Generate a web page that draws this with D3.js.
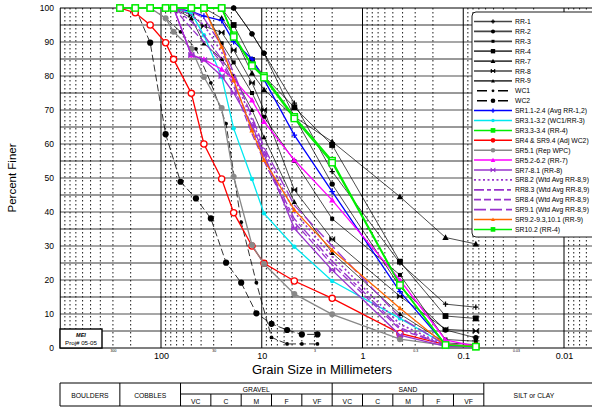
<!DOCTYPE html>
<html><head><meta charset="utf-8">
<script src="https://cdn.jsdelivr.net/npm/d3@7"></script>
<style>
body{margin:0;background:#fff}
svg{display:block}
text{font-family:"Liberation Sans",Arial,sans-serif}
</style>
</head><body>
<svg id="c" width="592" height="407"></svg>
<script>
// ---------- DATA ----------
const sieveSizes  = [256, 180, 128, 90, 75, 50, 37.5, 25, 19, 12.5, 9.5, 4.75, 2, 0.425, 0.15, 0.075];
const pebbleSizes = [256, 180, 128, 90, 64, 45, 32, 22.6, 16, 11.3, 8, 5.6, 4, 2.8];
const n = null;
const rr1  = [n,n,n,n,n,n,n,n,100,92.4,86.7,72,51.9,25,12.9,12];
const rr2  = [n,n,n,n,n,n,n,n,100,92.4,86.7,68,48.2,18,5.3,3];
const rr3  = [n,n,n,n,n,n,100,89.6,84,75,68,55,38,21.5,2.5,2];
const rr4  = [n,n,n,n,n,n,n,100,95,84.7,80,70.8,59.7,25.4,9.4,8.7];
const rr7  = [n,n,n,n,n,n,100,97,92,80.8,76,68,60.7,44.5,32.5,30.6];
const rr8  = [n,n,n,n,100,98,94.7,92.8,87.6,78,70,46.5,32,15.2,5.5,5];
const rr9  = [n,n,n,n,100,97,89.6,85,80,70,62,43,28,10,1.5,1];
const wc1  = [n,n,100,97,93,88,78,66,37,19.2,3.1,1.2,1.2,1.2];
const wc2  = [n,100,89.8,62.9,48.9,44,38.1,25.1,19.2,10.2,7.1,5.3,4,4];
const sr11 = [n,n,n,n,100,99,97.6,96.3,90.1,85,79,62.6,46,16.6,1,0.5];
const sr31 = [n,n,n,n,100,98.5,92,79.8,64.6,49.7,39.6,29.8,19.7,8.7,1,0.5];
const sr33 = [100,100,100,100,100,100,100,100,92,83.2,80,68,55.1,18.7,0.9,0.4];
const sr4  = [100,98.6,95,89.8,84.9,74.9,60,49.7,39.8,30,24.9,19.7,14.6,4.3,1,0.5];
const sr51 = [100,100,100,97,93,88,79.7,70.6,50.4,30.3,24.7,15.9,9.9,2.6,0.8,0.5];
const sr52 = [n,n,n,n,100,86.2,84.9,82,79,72.9,66.6,55.3,43.5,20,2.4,0.5];
const sr7  = [n,n,n,n,100,86.2,84.7,80,75,65.6,57,35.2,22.9,3.8,0.5,0.3];
const sr82 = [n,n,n,n,100,98,95,87,80,67,58,40,27,7,0.8,0.5];
const rr83 = [n,n,n,n,100,96,92,85,78,65,56,38,25.5,6,0.7,0.5];
const sr84 = [n,n,n,n,100,94,90,84,77,63,55,37,24.5,5.5,0.7,0.5];
const sr91 = [n,n,n,n,100,99,97,89,81,68,59,42,30,9,0.9,0.5];
const sr92 = [n,n,n,n,n,n,100,88.6,78.8,64,55.3,40.6,28.8,11.7,0.9,0.5];
const sr102= [100,100,100,100,100,100,100,100,91.5,83,79.5,67.5,54.5,18.5,0.9,0.4];

const seriesNames = ["RR-1","RR-2","RR-3","RR-4","RR-7","RR-8","RR-9","WC1","WC2",
  "SR1.1-2.4 (Avg RR-1,2)","SR3.1-3.2 (WC1/RR-3)","SR3.3-3.4 (RR-4)","SR4 & SR9.4 (Adj WC2)",
  "SR5.1 (Rep WPC)","SR5.2-6.2 (RR-7)","SR7-8.1 (RR-8)","SR8.2 (Wtd Avg RR-8,9)",
  "RR8.3 (Wtd Avg RR-8,9)","SR8.4 (Wtd Avg RR-8,9)","SR9.1 (Wtd Avg RR-8,9)",
  "SR9.2-9.3,10.1 (RR-9)","SR10.2 (RR-4)"];
const seriesValues = [rr1,rr2,rr3,rr4,rr7,rr8,rr9,wc1,wc2,sr11,sr31,sr33,sr4,sr51,sr52,sr7,sr82,rr83,sr84,sr91,sr92,sr102];
const seriesSizes = seriesNames.map(s => (s==="WC1"||s==="WC2") ? pebbleSizes : sieveSizes);

const yTicks = [0,10,20,30,40,50,60,70,80,90,100];
const xMajorTicks = [100,10,1,0.1,0.01];
const xMinorLabels = [300,30,3,0.3,0.03];
const classNames = ["BOULDERS","COBBLES","GRAVEL","SAND","SILT or CLAY"];
const subNames = ["VC","C","M","F","VF"];
const gravelBounds = [64,32,16,8,4,2];
const sandBounds = [2,1,0.5,0.25,0.125,0.0625];

// ---------- STYLES ----------
const PURPLE = "#9933cc";
const styles = [
 {c:"#000",w:0.7,d:null,m:"plus",s:2.6},
 {c:"#000",w:0.7,d:null,m:"circle",s:2.7},
 {c:"#000",w:0.7,d:null,m:"square",s:2},
 {c:"#000",w:0.7,d:null,m:"square",s:2.9},
 {c:"#000",w:0.7,d:null,m:"triangle",s:3.2},
 {c:"#000",w:0.7,d:null,m:"bowtie",s:2.6},
 {c:"#000",w:0.7,d:null,m:"triangle",s:2.6},
 {c:"#000",w:0.8,d:"7,3",m:"circle",s:1.9},
 {c:"#000",w:0.8,d:"7,3",m:"circle",s:3.1},
 {c:"#0000ff",w:1.3,d:null,m:"plus",s:2.8},
 {c:"#00e8f0",w:1.3,d:null,m:"circle",s:2.2},
 {c:"#00ee00",w:1.5,d:null,m:"osquare",s:3.1},
 {c:"#ff0000",w:1.3,d:null,m:"ocircle",s:3.1},
 {c:"#888888",w:1.3,d:null,m:"circle",s:3},
 {c:"#ff00ff",w:1.3,d:null,m:"triangle",s:3.1},
 {c:PURPLE,w:1.3,d:null,m:"bowtie",s:2.8},
 {c:PURPLE,w:1.6,d:"2,2.5",m:null},
 {c:PURPLE,w:1.3,d:"10,3,4,3",m:null},
 {c:PURPLE,w:1.3,d:"7,3",m:null},
 {c:PURPLE,w:1.3,d:"12,4",m:null},
 {c:"#ff6600",w:1.3,d:null,m:"triangle",s:2.6},
 {c:"#00ee00",w:1.5,d:null,m:"osquare",s:3.1}
];

// ---------- CHART ----------
const svg = d3.select("#c");
const x = d3.scaleLog().domain([1000, 0.001]).range([60.25, 664.75]);
const y = d3.scaleLinear().domain([0, 100]).range([348, 8]);
const X0 = 60, X1 = 592, Y0 = 348, Y1 = 8;

const grid = svg.append("g");
d3.range(5, 100, 5).forEach(p => {
  const ten = p % 10 === 0;
  grid.append("line").attr("x1",X0).attr("x2",X1).attr("y1",y(p)).attr("y2",y(p))
    .attr("stroke", ten ? "#8a8a8a" : "#000").attr("stroke-width", ten ? 1.7 : 0.8);
});
[100,10,1,0.1,0.01,0.001].forEach(dec => {
  [2,3,4,5,6,7,8,9].forEach(k => {
    const xx = x(dec*k);
    if (xx > X0 && xx < X1) grid.append("line").attr("x1",xx).attr("x2",xx).attr("y1",Y1).attr("y2",Y0)
      .attr("stroke","#000").attr("stroke-width",0.9).attr("stroke-dasharray","1.5,2.5");
  });
});
[1000,100,10,1,0.1,0.01].forEach(v => {
  const xx = x(v);
  grid.append("line").attr("x1",xx).attr("x2",xx).attr("y1",Y1).attr("y2",Y0)
    .attr("stroke","#000").attr("stroke-width",1);
});
grid.append("line").attr("x1",X0).attr("x2",X1).attr("y1",Y1).attr("y2",Y1).attr("stroke","#000").attr("stroke-width",1);
grid.append("line").attr("x1",X0).attr("x2",X1).attr("y1",Y0).attr("y2",Y0).attr("stroke","#000").attr("stroke-width",1.2);

const ax = svg.append("g").attr("transform",`translate(0,${Y0})`)
  .call(d3.axisBottom(x).tickValues(xMajorTicks).tickFormat(d=>String(d)).tickSize(0).tickPadding(5));
ax.select(".domain").remove();
ax.selectAll("text").attr("font-size","9px").attr("fill","#000");
const axm = svg.append("g").attr("transform",`translate(0,${Y0})`)
  .call(d3.axisBottom(x).tickValues(xMinorLabels).tickFormat(d=>String(d)).tickSize(0).tickPadding(2));
axm.select(".domain").remove();
axm.selectAll("text").attr("font-size","3.5px").attr("fill","#000");
const ay = svg.append("g").attr("transform",`translate(${X0},0)`)
  .call(d3.axisLeft(y).tickValues(yTicks).tickSize(0).tickPadding(6));
ay.select(".domain").remove();
ay.selectAll("text").attr("font-size","8.5px").attr("fill","#000");

svg.append("text").attr("x",322).attr("y",373.5).attr("text-anchor","middle")
  .attr("font-size","13px").text("Grain Size in Millimeters");
svg.append("text").attr("transform","translate(16,178) rotate(-90)").attr("text-anchor","middle")
  .attr("font-size","11.5px").text("Percent Finer");

function marker(g, st, cx, cy, k, solid) {
  const s = st.s * (k || 1);
  const type = solid ? ({ocircle:"circle", osquare:"square"}[st.m] || st.m) : st.m;
  switch (type) {
    case "plus":
      g.append("path").attr("d",`M${cx-s},${cy}H${cx+s}M${cx},${cy-s}V${cy+s}`)
        .attr("stroke",st.c).attr("stroke-width",1.3).attr("fill","none"); break;
    case "circle":
      g.append("circle").attr("cx",cx).attr("cy",cy).attr("r",s).attr("fill",st.c); break;
    case "ocircle":
      g.append("circle").attr("cx",cx).attr("cy",cy).attr("r",s).attr("fill","#fff")
        .attr("stroke",st.c).attr("stroke-width",1.3); break;
    case "square":
      g.append("rect").attr("x",cx-s).attr("y",cy-s).attr("width",2*s).attr("height",2*s).attr("fill",st.c); break;
    case "osquare":
      g.append("rect").attr("x",cx-s).attr("y",cy-s).attr("width",2*s).attr("height",2*s)
        .attr("fill","#fff").attr("stroke",st.c).attr("stroke-width",1.4); break;
    case "triangle":
      g.append("path").attr("d",`M${cx},${cy-s}L${cx+s},${cy+s*0.8}L${cx-s},${cy+s*0.8}Z`).attr("fill",st.c); break;
    case "bowtie":
      g.append("path").attr("d",`M${cx-s},${cy-s}L${cx+s},${cy+s}L${cx+s},${cy-s}L${cx-s},${cy+s}Z`)
        .attr("fill",st.c).attr("stroke",st.c).attr("stroke-width",0.6); break;
  }
}

const line = d3.line().x(d=>x(d.s)).y(d=>y(d.v));
const plot = svg.append("g");
seriesNames.forEach((name, i) => {
  const st = styles[i];
  const pts = seriesValues[i].map((v,j)=>({s:seriesSizes[i][j], v})).filter(d=>d.v!==null);
  const g = plot.append("g");
  g.append("path").attr("d",line(pts)).attr("fill","none").attr("stroke",st.c)
    .attr("stroke-width",st.w).attr("stroke-dasharray",st.d);
  if (st.m) pts.forEach(p => marker(g, st, x(p.s), y(p.v)));
});

svg.append("rect").attr("x",60).attr("y",329).attr("width",42).attr("height",19)
  .attr("fill","#fff").attr("stroke","#000").attr("stroke-width",1.4);
svg.append("text").attr("x",81).attr("y",336.5).attr("text-anchor","middle").attr("font-size","5.5px")
  .attr("font-weight","bold").attr("font-style","italic").text("MEI");
svg.append("text").attr("x",81).attr("y",345).attr("text-anchor","middle").attr("font-size","6.2px").text("Proj# 05-05");

const lg = svg.append("g");
lg.append("rect").attr("x",472).attr("y",12).attr("width",130).attr("height",225).attr("rx",4)
  .attr("fill","#fff").attr("stroke","#000").attr("stroke-width",0.9);
seriesNames.forEach((name, i) => {
  const st = styles[i];
  const yy = 21.5 + i * 9.9;
  const isRR = i < 7, isWC = i === 7 || i === 8;
  const x1 = isWC ? 477 : 474, x2 = isWC ? 508 : 512;
  lg.append("line").attr("x1",x1).attr("x2",x2).attr("y1",yy).attr("y2",yy)
    .attr("stroke", isRR ? "#444" : st.c).attr("stroke-width", isRR ? 1.7 : (st.m ? 1.5 : 1.7))
    .attr("stroke-dasharray", isWC ? "10,11" : st.d);
  if (st.m) marker(lg, st, 493, yy, 0.75, true);
  lg.append("text").attr("x",515).attr("y",yy+2.5).attr("font-size","6.8px").text(name);
});

const tb = svg.append("g");
const T0 = 383, TM = 394, T1 = 406;
const L = (x1,y1,x2,y2)=>tb.append("line").attr("x1",x1).attr("y1",y1).attr("x2",x2).attr("y2",y2)
  .attr("stroke","#000").attr("stroke-width",1);
L(X0,T0,X1,T0); L(X0,T1,X1,T1); L(x(64),TM,x(0.0625),TM);
L(X0,T0,X0,T1);
[256,64,2,0.0625].forEach(v=>L(x(v),T0,x(v),T1));
[32,16,8,4,1,0.5,0.25,0.125].forEach(v=>L(x(v),TM,x(v),T1));
const T = (tx,ty,s)=>tb.append("text").attr("x",tx).attr("y",ty).attr("text-anchor","middle").attr("font-size","6.8px").text(s);
T((X0+x(256))/2,397.5,classNames[0]);
T((x(256)+x(64))/2,397.5,classNames[1]);
T((x(64)+x(2))/2,391.5,classNames[2]);
T((x(2)+x(0.0625))/2,391.5,classNames[3]);
T(534,397.5,classNames[4]);
for (let k=0;k<5;k++){
  T((x(gravelBounds[k])+x(gravelBounds[k+1]))/2,403.8,subNames[k]);
  T((x(sandBounds[k])+x(sandBounds[k+1]))/2,403.8,subNames[k]);
}
</script>
</body></html>
